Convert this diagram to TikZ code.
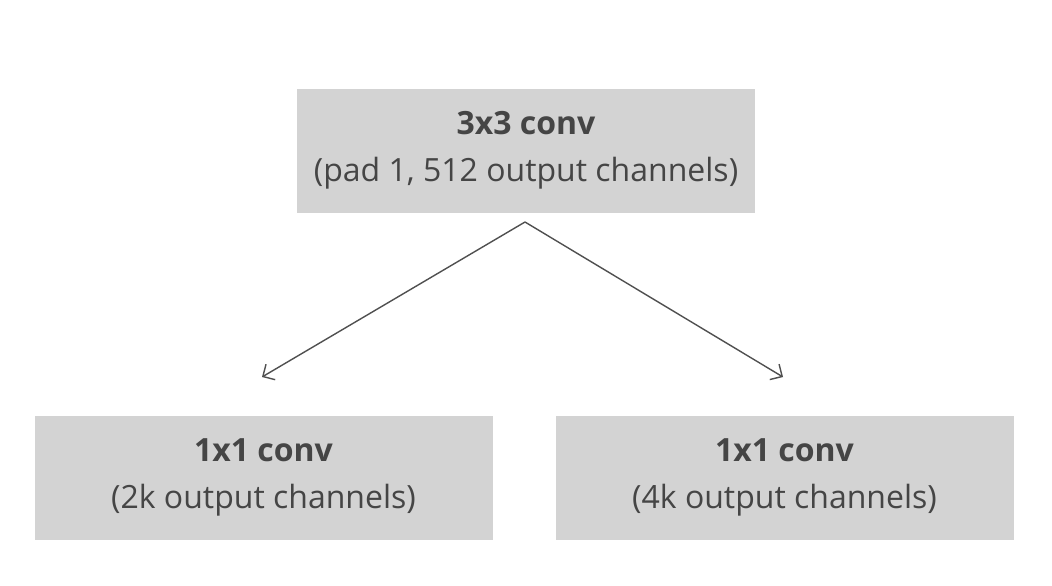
\documentclass[tikz,border=0pt]{standalone}
\usepackage{fontspec}
\setmainfont{Open Sans}
\usetikzlibrary{arrows.meta}
\definecolor{boxgray}{HTML}{D3D3D3}
\definecolor{txtgray}{HTML}{454545}
\definecolor{linegray}{HTML}{505050}
\begin{document}
\begin{tikzpicture}[x=1pt,y=-1pt,
  convbox/.style={fill=boxgray, draw=none, minimum width=458pt, minimum height=124pt,
    inner sep=0pt, align=center, text=txtgray, font=\fontsize{32}{47}\selectfont},
  conn/.style={draw=linegray, line width=1.4pt, -{Straight Barb[length=9pt,width=18pt,line width=1.4pt]}}]
\useasboundingbox (0,0) rectangle (1052,586);
\fill[white] (0,0) rectangle (1052,586);
\node[convbox] (top) at (526,150.5) {\textbf{3x3 conv}\\(pad 1, 512 output channels)};
\node[convbox] (left) at (263.5,477.5) {\textbf{1x1 conv}\\(2k output channels)};
\node[convbox] (right) at (784.5,477.5) {\textbf{1x1 conv}\\(4k output channels)};
\coordinate (split) at (525,222);
\coordinate (lend) at (262,377);
\coordinate (rend) at (783,377);
\draw[conn] (split) -- (lend);
\draw[conn] (split) -- (rend);
\end{tikzpicture}
\end{document}
